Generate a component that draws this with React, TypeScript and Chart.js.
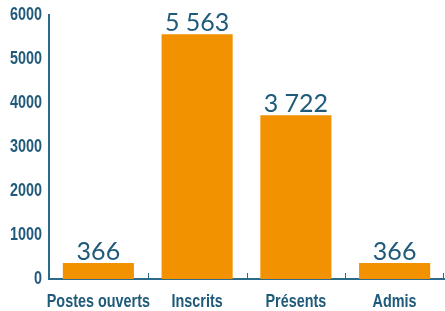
import React, { useEffect, useRef } from "react";
import { Chart, registerables } from "chart.js";

Chart.register(...registerables);

const categories = ["Postes ouverts", "Inscrits", "Présents", "Admis"];
const values = [366, 5563, 3722, 366];
const yTicks = [0, 1000, 2000, 3000, 4000, 5000, 6000];

const TEXT = "#1F5A7A";
const AXIS = "#2B6A88";
const BAR = "#F39200";
const AXIS_FONT = "bold 18px 'Liberation Sans', Arial, sans-serif";
const SX = 0.8;

const fmt = (v: number) => String(v).replace(/\B(?=(\d{3})+(?!\d))/g, "\u202F");

const valueLabels = {
  id: "valueLabels",
  afterDatasetsDraw(chart: any) {
    const ctx = chart.ctx;
    const meta = chart.getDatasetMeta(0);
    ctx.save();
    ctx.fillStyle = TEXT;
    ctx.font = "400 25px Lato, 'Open Sans', sans-serif";
    ctx.textAlign = "center";
    ctx.textBaseline = "alphabetic";
    meta.data.forEach((bar: any, i: number) => {
      ctx.fillText(fmt(values[i]), bar.x, bar.y - 3);
    });
    ctx.restore();
  },
};

const axisLabels = {
  id: "axisLabels",
  afterDraw(chart: any) {
    const ctx = chart.ctx;
    const x = chart.scales.x;
    const y = chart.scales.y;
    const area = chart.chartArea;
    ctx.save();
    ctx.fillStyle = TEXT;
    ctx.font = AXIS_FONT;
    ctx.textAlign = "right";
    ctx.textBaseline = "middle";
    y.ticks.forEach((t: any) => {
      const py = y.getPixelForValue(t.value);
      ctx.save();
      ctx.translate(area.left - 7, py);
      ctx.scale(SX, 1);
      ctx.fillText(String(t.value), 0, 0);
      ctx.restore();
    });
    ctx.textAlign = "center";
    ctx.textBaseline = "alphabetic";
    categories.forEach((c, i) => {
      const px = x.getPixelForValue(i);
      ctx.save();
      ctx.translate(px, area.bottom + 28);
      ctx.scale(SX, 1);
      ctx.fillText(c, 0, 0);
      ctx.restore();
    });
    ctx.strokeStyle = AXIS;
    ctx.lineWidth = 1;
    const step = x.getPixelForValue(1) - x.getPixelForValue(0);
    for (let i = 0; i < categories.length; i++) {
      const px = x.getPixelForValue(i) + step / 2;
      const rx = Math.min(Math.round(px), chart.width - 2) + 0.5;
      ctx.beginPath();
      ctx.moveTo(rx, area.bottom);
      ctx.lineTo(rx, area.bottom - 6);
      ctx.stroke();
    }
    ctx.restore();
  },
};

export default function App() {
  const ref = useRef<HTMLCanvasElement>(null);
  useEffect(() => {
    document.body.style.margin = "0";
    const chart = new Chart(ref.current!, {
      type: "bar",
      data: {
        labels: categories,
        datasets: [
          {
            data: values,
            backgroundColor: BAR,
            borderWidth: 0,
            categoryPercentage: 1,
            barPercentage: 0.72,
          },
        ],
      },
      options: {
        animation: false,
        responsive: false,
        layout: { padding: { top: 15, right: 1, bottom: 32, left: 49 } },
        plugins: { legend: { display: false }, tooltip: { enabled: false } },
        scales: {
          x: {
            afterFit(scale: any) {
              scale.height = 0;
            },
            grid: { display: false },
            border: { display: true, color: AXIS, width: 2 },
            ticks: { display: false },
          },
          y: {
            min: 0,
            max: 6000,
            afterBuildTicks(scale: any) {
              scale.ticks = yTicks.map((v) => ({ value: v }));
            },
            afterFit(scale: any) {
              scale.width = 0;
            },
            grid: { display: false },
            border: { display: true, color: AXIS, width: 2 },
            ticks: { display: false },
          },
        },
      },
      plugins: [valueLabels, axisLabels],
    });
    return () => chart.destroy();
  }, []);
  return (
    <div style={{ position: "absolute", left: 0, top: 0, width: 445, height: 311 }}>
      <canvas ref={ref} width={445} height={311} />
    </div>
  );
}
